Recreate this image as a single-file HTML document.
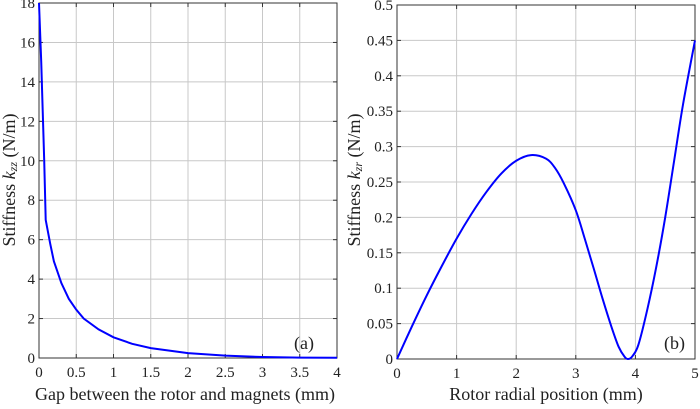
<!DOCTYPE html>
<html><head><meta charset="utf-8"><style>
body{margin:0;background:#fff}
svg text{font-family:"Liberation Serif",serif;fill:#222}
</style></head><body>
<svg id="s" width="700" height="404" xmlns="http://www.w3.org/2000/svg">
<g id="g"></g>
<text x="15" y="180" font-size="18" transform="rotate(-90 15 180)" text-anchor="middle">Stiffness <tspan font-style="italic">k</tspan><tspan font-style="italic" font-size="12" dy="2">zz</tspan><tspan dy="-2"> (N/m)</tspan></text>
<text x="360" y="180" font-size="18" transform="rotate(-90 360 180)" text-anchor="middle">Stiffness <tspan font-style="italic">k</tspan><tspan font-style="italic" font-size="12" dy="2">zr</tspan><tspan dy="-2"> (N/m)</tspan></text>
<text x="185" y="400" font-size="18" text-anchor="middle">Gap between the rotor and magnets  (mm)</text>
<text x="546" y="400" font-size="18" text-anchor="middle">Rotor radial position (mm)</text>
<text x="294" y="349" font-size="18">(a)</text>
<text x="664" y="349" font-size="18">(b)</text>
</svg>
<script>
const g=document.getElementById('g');let h='';
function ax(x0,x1,y0,y1,xt,yt,xl,yl,data,xmax,ymax,smooth){
 const X=v=>x0+(x1-x0)*v/xmax, Y=v=>y0-(y0-y1)*v/ymax;
 xt.forEach((v,i)=>{const x=X(v);h+=`<line x1="${x}" y1="${y1}" x2="${x}" y2="${y0}" stroke="#c8c8c8" stroke-width="1"/><line x1="${x}" y1="${y0}" x2="${x}" y2="${y0-4}" stroke="#333"/><line x1="${x}" y1="${y1}" x2="${x}" y2="${y1+4}" stroke="#333"/><text x="${x}" y="${y0+19}" font-size="15" text-anchor="middle">${xl[i]}</text>`});
 yt.forEach((v,i)=>{const y=Y(v);h+=`<line x1="${x0}" y1="${y}" x2="${x1}" y2="${y}" stroke="#c8c8c8" stroke-width="1"/><line x1="${x0}" y1="${y}" x2="${x0+4}" y2="${y}" stroke="#333"/><line x1="${x1}" y1="${y}" x2="${x1-4}" y2="${y}" stroke="#333"/><text x="${x0-4}" y="${y+5}" font-size="15" text-anchor="end">${yl[i]}</text>`});
 h+=`<rect x="${x0}" y="${y1}" width="${x1-x0}" height="${y0-y1}" fill="none" stroke="#333" stroke-width="1"/>`;
 const P=data.map(p=>[X(p[0]),Y(p[1])]);
 let d='M'+P[0][0]+','+P[0][1];
 for(let i=0;i<P.length-1;i++){
  if(!smooth){d+=' L'+P[i+1][0]+','+P[i+1][1];continue;}
  const p0=P[i-1]||P[i],p1=P[i],p2=P[i+1],p3=P[i+2]||p2;
  d+=` C${p1[0]+(p2[0]-p0[0])/6},${p1[1]+(p2[1]-p0[1])/6} ${p2[0]-(p3[0]-p1[0])/6},${p2[1]-(p3[1]-p1[1])/6} ${p2[0]},${p2[1]}`;
 }
 h+=`<path fill="none" stroke="#0000ff" stroke-width="2" d="${d}"/>`;
}
ax(39,337,358,3,[0,.5,1,1.5,2,2.5,3,3.5,4],[0,2,4,6,8,10,12,14,16,18],['0','0.5','1','1.5','2','2.5','3','3.5','4'],['0','2','4','6','8','10','12','14','16','18'],
[[0,18],[0.03,15],[0.05,12.5],[0.07,10],[0.09,7],[0.15,5.8],[0.2,4.9],[0.3,3.8],[0.4,3],[0.5,2.45],[0.6,2.0],[0.8,1.45],[1,1.05],[1.25,0.72],[1.5,0.5],[2,0.25],[2.5,0.12],[3,0.05],[3.5,0.02],[4,0.01]],4,18,false);
ax(397,695,359,5,[0,1,2,3,4,5],[0,.05,.1,.15,.2,.25,.3,.35,.4,.45,.5],['0','1','2','3','4','5'],['0','0.05','0.1','0.15','0.2','0.25','0.3','0.35','0.4','0.45','0.5'],
[[0,0],[0.25,0.046],[0.5,0.09],[0.75,0.131],[1,0.17],[1.25,0.205],[1.5,0.236],[1.75,0.262],[2,0.28],[2.25,0.288],[2.5,0.283],[2.65,0.27],[2.8,0.248],[3,0.21],[3.15,0.17],[3.3,0.128],[3.45,0.085],[3.6,0.045],[3.72,0.017],[3.82,0.003],[3.88,0],[3.95,0.004],[4.05,0.02],[4.2,0.07],[4.35,0.13],[4.5,0.2],[4.65,0.28],[4.8,0.36],[5,0.45]],5,0.5,true);
g.innerHTML=h;
</script>
</body></html>
